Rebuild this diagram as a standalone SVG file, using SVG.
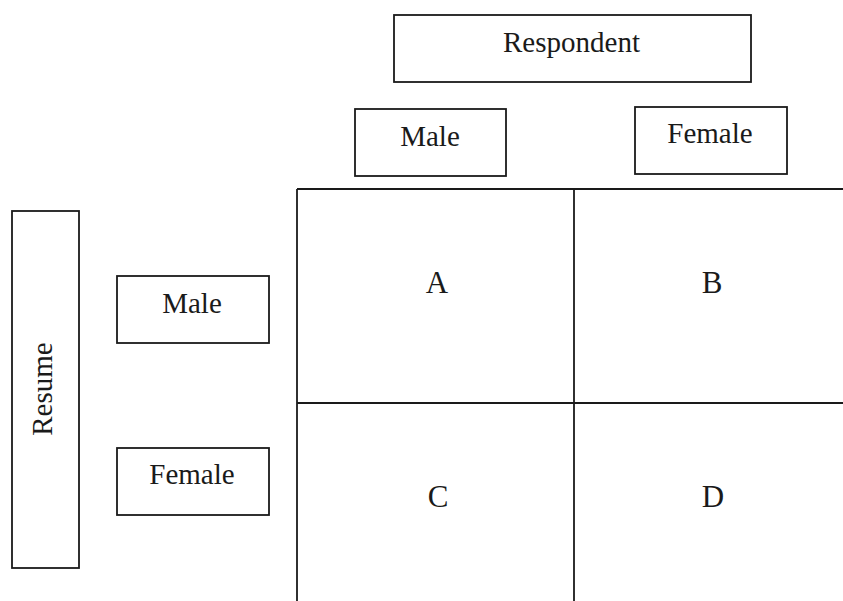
<svg xmlns="http://www.w3.org/2000/svg" width="843" height="601" viewBox="0 0 843 601">
<style>
.box{fill:#fff;stroke:#1a1a1a;stroke-width:1.8}
.ln{stroke:#1a1a1a;stroke-width:1.8;fill:none}
.t{font-family:'Liberation Serif','Times New Roman',Tinos,'DejaVu Serif',serif;font-size:29px;fill:#1a1a1a;text-anchor:middle}
.c{font-family:'Liberation Serif','Times New Roman',Tinos,'DejaVu Serif',serif;font-size:31px;fill:#1a1a1a;text-anchor:middle}
</style>
<rect width="843" height="601" fill="#fff"/>
<g id="respondent"><rect class="box" x="394" y="15" width="357" height="67"/><text class="t" x="571.5" y="52">Respondent</text></g>
<g id="resp-male"><rect class="box" x="355" y="109" width="151" height="67"/><text class="t" x="430" y="146">Male</text></g>
<g id="resp-female"><rect class="box" x="635" y="107" width="152" height="67"/><text class="t" x="710" y="143">Female</text></g>
<g id="resume"><rect class="box" x="12" y="211" width="67" height="357"/><text class="t" transform="translate(52,389) rotate(-90)" x="0" y="0">Resume</text></g>
<g id="resume-male"><rect class="box" x="117" y="276" width="152" height="67"/><text class="t" x="192" y="313">Male</text></g>
<g id="resume-female"><rect class="box" x="117" y="448" width="152" height="67"/><text class="t" x="192" y="484">Female</text></g>
<g id="connectors">
<line class="ln" x1="297" y1="189" x2="843" y2="189"/>
<line class="ln" x1="297" y1="189" x2="297" y2="601"/>
<line class="ln" x1="574" y1="189" x2="574" y2="601"/>
<line class="ln" x1="297" y1="403" x2="843" y2="403"/>
</g>
<g id="cell-a"><text class="c" x="437" y="293">A</text></g>
<g id="cell-b"><text class="c" x="712" y="293">B</text></g>
<g id="cell-c"><text class="c" x="438" y="507">C</text></g>
<g id="cell-d"><text class="c" x="713" y="507">D</text></g>
</svg>
